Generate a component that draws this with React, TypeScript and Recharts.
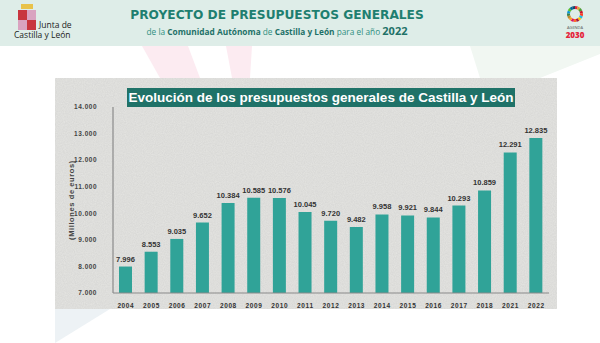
import React from "react";
import { BarChart, Bar, XAxis, YAxis, LabelList } from "recharts";

const years = [
  "2004", "2005", "2006", "2007", "2008", "2009", "2010", "2011", "2012",
  "2013", "2014", "2015", "2016", "2017", "2018", "2021", "2022",
];
const budgets = [
  7996, 8553, 9035, 9652, 10384, 10585, 10576, 10045, 9720, 9482, 9958,
  9921, 9844, 10293, 10859, 12291, 12835,
];
const yTicks = [7000, 8000, 9000, 10000, 11000, 12000, 13000, 14000];

const data = years.map((year, i) => ({ year, value: budgets[i] }));

const fmt = (v: number) => v.toLocaleString("de-DE");

const teal = "#1f7268";
const sdgColors = [
  "#e5243b", "#dda63a", "#4c9f38", "#c5192d", "#ff3a21", "#26bde2",
  "#fcc30b", "#a21942", "#fd6925", "#dd1367", "#fd9d24", "#bf8b2e",
  "#3f7e44", "#0a97d9", "#56c02b", "#00689d", "#19486a",
];

const App = () => {
  return (
    <div
      style={{
        position: "absolute",
        left: 0,
        top: 0,
        width: 600,
        height: 343,
        overflow: "hidden",
        background: "#ffffff",
        fontFamily: "'Open Sans', Arial, sans-serif",
      }}
    >
      {/* faint background shapes + textured panel */}
      <svg width={600} height={343} style={{ position: "absolute", left: 0, top: 0 }}>
        <defs>
          <filter id="grain" x="0" y="0" width="1" height="1">
            <feTurbulence type="fractalNoise" baseFrequency="0.9" numOctaves={2} seed={3} />
            <feColorMatrix
              type="matrix"
              values="0 0 0 0 0.45  0 0 0 0 0.45  0 0 0 0 0.45  0 0 0 0.3 0"
            />
          </filter>
        </defs>
        <polygon points="142,46 188,46 200,78 160,78" fill="#fcebf1" />
        <polygon points="226,46 252,46 250,78 232,78" fill="#fcebf1" />
        <polygon points="470,46 600,46 600,54 540,78 480,78" fill="#f1f7f2" />
        <polygon points="55,309 110,309 55,343" fill="#edf2f5" />
        <rect x={55} y={78} width={502} height={231} fill="#e5e5e2" />
        <rect x={55} y={78} width={502} height={231} filter="url(#grain)" />
      </svg>

      {/* header */}
      <div
        style={{
          position: "absolute",
          left: 0,
          top: 0,
          width: 600,
          height: 46,
          background: "#deede8",
        }}
      />
      <svg width={24} height={34} style={{ position: "absolute", left: 15, top: 3 }}>
        <rect x={6} y={1} width={12} height={5} fill="#e8c24a" />
        <rect x={3} y={7} width={9} height={10} fill="#c8363f" />
        <rect x={12} y={7} width={9} height={10} fill="#d9a3c0" />
        <rect x={3} y={17} width={9} height={10} fill="#d9a3c0" />
        <rect x={12} y={17} width={9} height={10} fill="#c8363f" />
      </svg>
      <div
        style={{
          position: "absolute",
          left: 39,
          top: 20,
          fontSize: 8.5,
          lineHeight: "10px",
          color: "#222",
          whiteSpace: "nowrap",
        }}
      >
        Junta de
      </div>
      <div
        style={{
          position: "absolute",
          left: 14,
          top: 30,
          fontSize: 8.5,
          lineHeight: "10px",
          color: "#222",
          whiteSpace: "nowrap",
        }}
      >
        Castilla y León
      </div>
      <div
        style={{
          position: "absolute",
          left: 0,
          top: 8,
          width: 554,
          textAlign: "center",
          color: "#1e7f70",
          fontWeight: 700,
          fontSize: 12.2,
          lineHeight: "15px",
          fontFamily: "'DejaVu Sans', sans-serif",
          whiteSpace: "nowrap",
        }}
      >
        PROYECTO DE PRESUPUESTOS GENERALES
      </div>
      <div
        style={{
          position: "absolute",
          left: 0,
          top: 25,
          width: 554,
          textAlign: "center",
          color: "#2f8f80",
          fontSize: 8.3,
          lineHeight: "12px",
          whiteSpace: "nowrap",
        }}
      >
        de la <b style={{ color: teal }}>Comunidad Autónoma</b> de{" "}
        <b style={{ color: teal }}>Castilla y León</b> para el año{" "}
        <b style={{ color: teal, fontSize: 11 }}>2022</b>
      </div>
      <svg width={30} height={42} style={{ position: "absolute", left: 560, top: 2 }}>
        {sdgColors.map((c, i, arr) => {
          const a0 = (i / arr.length) * 2 * Math.PI;
          const a1 = ((i + 1) / arr.length) * 2 * Math.PI;
          const r = 6.5;
          return (
            <path
              key={c}
              d={`M${15 + r * Math.sin(a0)},${12 - r * Math.cos(a0)} A${r},${r} 0 0 1 ${15 + r * Math.sin(a1)},${12 - r * Math.cos(a1)}`}
              stroke={c}
              strokeWidth={3}
              fill="none"
            />
          );
        })}
        <text x={15} y={27} textAnchor="middle" fontSize={4} fill="#555">
          AGENDA
        </text>
        <text x={15} y={36} textAnchor="middle" fontSize={8} fontWeight={900} fill="#e5243b">
          2030
        </text>
      </svg>

      {/* chart title */}
      <div
        style={{
          position: "absolute",
          left: 127,
          top: 88,
          width: 388,
          height: 19,
          background: teal,
          color: "#ffffff",
          fontWeight: 700,
          fontSize: 13.5,
          lineHeight: "19px",
          textAlign: "center",
          fontFamily: "Arial, 'Liberation Sans', sans-serif",
          whiteSpace: "nowrap",
        }}
      >
        Evolución de los presupuestos generales de Castilla y León
      </div>

      <div style={{ position: "absolute", left: 0, top: 0 }}>
        <BarChart
          width={600}
          height={343}
          data={data}
          margin={{ top: 107, right: 51, bottom: 30, left: 63 }}
        >
          <XAxis
            dataKey="year"
            height={20}
            tickLine={false}
            axisLine={{ stroke: "#8a8a8a", strokeWidth: 1.2 }}
            tick={{
              fontSize: 6.5,
              fontWeight: 700,
              fill: "#333",
              letterSpacing: 0.6,
              fontFamily: "Arial, 'Liberation Sans', sans-serif",
            }}
            interval={0}
            tickMargin={4}
          />
          <YAxis
            width={50}
            domain={[7000, 14000]}
            ticks={yTicks}
            tickFormatter={fmt}
            tickLine={false}
            axisLine={{ stroke: "#8a8a8a", strokeWidth: 1.2 }}
            tickMargin={10}
            tick={{
              fontSize: 6.5,
              fontWeight: 700,
              fill: "#444",
              letterSpacing: 0.5,
              fontFamily: "Arial, 'Liberation Sans', sans-serif",
            }}
            allowDataOverflow
            label={{
              value: "(Millones de euros)",
              angle: -90,
              position: "insideLeft",
              offset: 8,
              style: {
                fontSize: 7.5,
                fontWeight: 700,
                fill: "#444",
                letterSpacing: 0.6,
                textAnchor: "middle",
                fontFamily: "Arial, 'Liberation Sans', sans-serif",
              },
            }}
          />
          <Bar dataKey="value" fill="#30a398" barSize={13} isAnimationActive={false}>
            <LabelList
              dataKey="value"
              position="top"
              offset={5}
              formatter={(v: number) => fmt(v)}
              style={{
                fontSize: 7.5,
                fontWeight: 700,
                fill: "#333",
                fontFamily: "Arial, 'Liberation Sans', sans-serif",
              }}
            />
          </Bar>
        </BarChart>
      </div>
    </div>
  );
};

export default App;
